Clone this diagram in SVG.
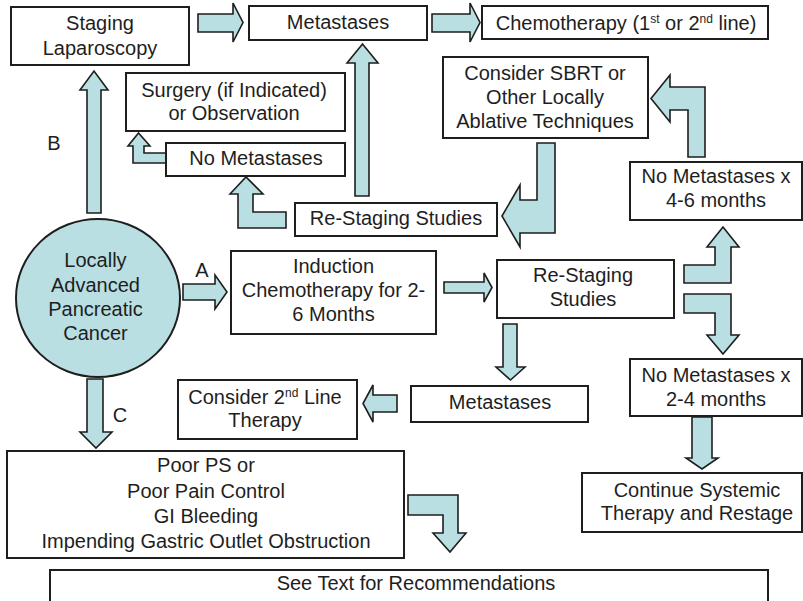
<svg xmlns="http://www.w3.org/2000/svg" width="803" height="601" viewBox="0 0 803 601">
  <style>
    .box { fill: #ffffff; stroke: #1e1e1e; stroke-width: 2; }
    .arrow { fill: #b9dfe2; stroke: #1e1e1e; stroke-width: 1.6; stroke-linejoin: miter; }
    text { font-family: "Liberation Sans", Arial, sans-serif; font-size: 20px; fill: #1e1e1e; text-anchor: middle; }
    .sup { font-size: 12px; }
  </style>
  <rect width="803" height="601" fill="#ffffff"/>

  <!-- connectors: block arrows -->
  <g id="connectors">
    <polygon class="arrow" points="198,14 233,14 233,3 243,22.5 233,42 233,32 198,32"/>
    <polygon class="arrow" points="432,14 470,14 470,3 480,22.5 470,42 470,32 432,32"/>
    <polygon class="arrow" points="355,196 355,63 347,63 362.5,44 378,63 369,63 369,196"/>
    <polygon class="arrow" points="87,213 87,90 80,90 94,71 108,90 101,90 101,213"/>
    <polygon class="arrow" points="166,153 144,153 144,146 150,146 138.5,133 128,146 133,146 133,163 166,163"/>
    <polygon class="arrow" points="230,194 246,177 263,194 253,194 253,212 286,212 286,228 238,228 238,194"/>
    <polygon class="arrow" points="537,143 555,143 555,233 520,233 520,247 502,216 520,185 520,200 537,200"/>
    <polygon class="arrow" points="705,157 705,87 670,87 670,75 651,98.5 670,122 670,110 688,110 688,157"/>
    <polygon class="arrow" points="183,284 215,284 215,275 227,292 215,309 215,300 183,300"/>
    <polygon class="arrow" points="444,282 484,282 484,273 492,287.5 484,302 484,293 444,293"/>
    <polygon class="arrow" points="684,265 715,265 715,247 707,247 723,227 739,247 731,247 731,283 684,283"/>
    <polygon class="arrow" points="684,294 731,294 731,335 739,335 723,354 707,335 715,335 715,313 684,313"/>
    <polygon class="arrow" points="503,324 517,324 517,367 525,367 510.5,380 496,367 503,367"/>
    <polygon class="arrow" points="397,395 373,395 373,385 363,403.5 373,422 373,412 397,412"/>
    <polygon class="arrow" points="87,379 103,379 103,432 112,432 96,448 80,432 87,432"/>
    <polygon class="arrow" points="408,495 458,495 458,533 466,533 450,552 433,533 443,533 443,515 408,515"/>
    <polygon class="arrow" points="692,417 712,417 712,458 718,458 702,469 686,458 692,458"/>
    <text x="54" y="150">B</text>
    <text x="202" y="277">A</text>
    <text x="120" y="422">C</text>
  </g>

  <g id="staging-laparoscopy">
    <rect class="box" x="11" y="7" width="178" height="58"/>
    <text x="100" y="30">Staging</text>
    <text x="100" y="55">Laparoscopy</text>
  </g>

  <g id="metastases-top">
    <rect class="box" x="249" y="6" width="178" height="34"/>
    <text x="338" y="29">Metastases</text>
  </g>

  <g id="chemotherapy">
    <rect class="box" x="482" y="6" width="286" height="33"/>
    <text x="626" y="29.5">Chemotherapy (1<tspan class="sup" dy="-7">st</tspan><tspan dy="7"> or 2</tspan><tspan class="sup" dy="-7">nd</tspan><tspan dy="7"> line)</tspan></text>
  </g>

  <g id="surgery">
    <rect class="box" x="126" y="73" width="219" height="58"/>
    <text x="234" y="97">Surgery (if Indicated)</text>
    <text x="234" y="120">or Observation</text>
  </g>

  <g id="no-metastases">
    <rect class="box" x="166" y="143" width="179" height="33"/>
    <text x="256" y="165">No Metastases</text>
  </g>

  <g id="sbrt">
    <rect class="box" x="443" y="57" width="205" height="81"/>
    <text x="545" y="80">Consider SBRT or</text>
    <text x="545" y="104">Other Locally</text>
    <text x="545" y="128">Ablative Techniques</text>
  </g>

  <g id="restaging-upper">
    <rect class="box" x="295" y="203" width="202" height="33"/>
    <text x="396" y="225">Re-Staging Studies</text>
  </g>

  <g id="no-metastases-4-6">
    <rect class="box" x="630" y="162" width="172" height="58"/>
    <text x="716" y="183">No Metastases x</text>
    <text x="716" y="207">4-6 months</text>
  </g>

  <g id="lapc">
    <ellipse cx="98" cy="298" rx="82" ry="79" fill="#b9dfe2" stroke="#1e1e1e" stroke-width="2"/>
    <text x="95.5" y="267">Locally</text>
    <text x="95.5" y="292">Advanced</text>
    <text x="95.5" y="316">Pancreatic</text>
    <text x="95.5" y="340">Cancer</text>
  </g>

  <g id="induction">
    <rect class="box" x="231" y="251" width="205" height="83"/>
    <text x="333.5" y="273">Induction</text>
    <text x="333.5" y="297">Chemotherapy for 2-</text>
    <text x="333.5" y="321">6 Months</text>
  </g>

  <g id="restaging-middle">
    <rect class="box" x="497" y="260" width="177" height="58"/>
    <text x="583" y="282">Re-Staging</text>
    <text x="583" y="306">Studies</text>
  </g>

  <g id="metastases-middle">
    <rect class="box" x="411" y="386" width="177" height="36"/>
    <text x="500" y="409">Metastases</text>
  </g>

  <g id="second-line">
    <rect class="box" x="178" y="380" width="179" height="59"/>
    <text x="265" y="404">Consider 2<tspan class="sup" dy="-7">nd</tspan><tspan dy="7"> Line</tspan></text>
    <text x="265" y="427">Therapy</text>
  </g>

  <g id="no-metastases-2-4">
    <rect class="box" x="630" y="359" width="172" height="57"/>
    <text x="716" y="382">No Metastases x</text>
    <text x="716" y="406">2-4 months</text>
  </g>

  <g id="continue">
    <rect class="box" x="582" y="473" width="220" height="59"/>
    <text x="697" y="497">Continue Systemic</text>
    <text x="697" y="520">Therapy and Restage</text>
  </g>

  <g id="poor-ps">
    <rect class="box" x="7" y="451" width="397" height="107"/>
    <text x="206" y="472">Poor PS or</text>
    <text x="206" y="498">Poor Pain Control</text>
    <text x="206" y="523">GI Bleeding</text>
    <text x="206" y="548">Impending Gastric Outlet Obstruction</text>
  </g>

  <g id="see-text">
    <rect class="box" x="50" y="570" width="718" height="45"/>
    <text x="416" y="590">See Text for Recommendations</text>
  </g>
</svg>
